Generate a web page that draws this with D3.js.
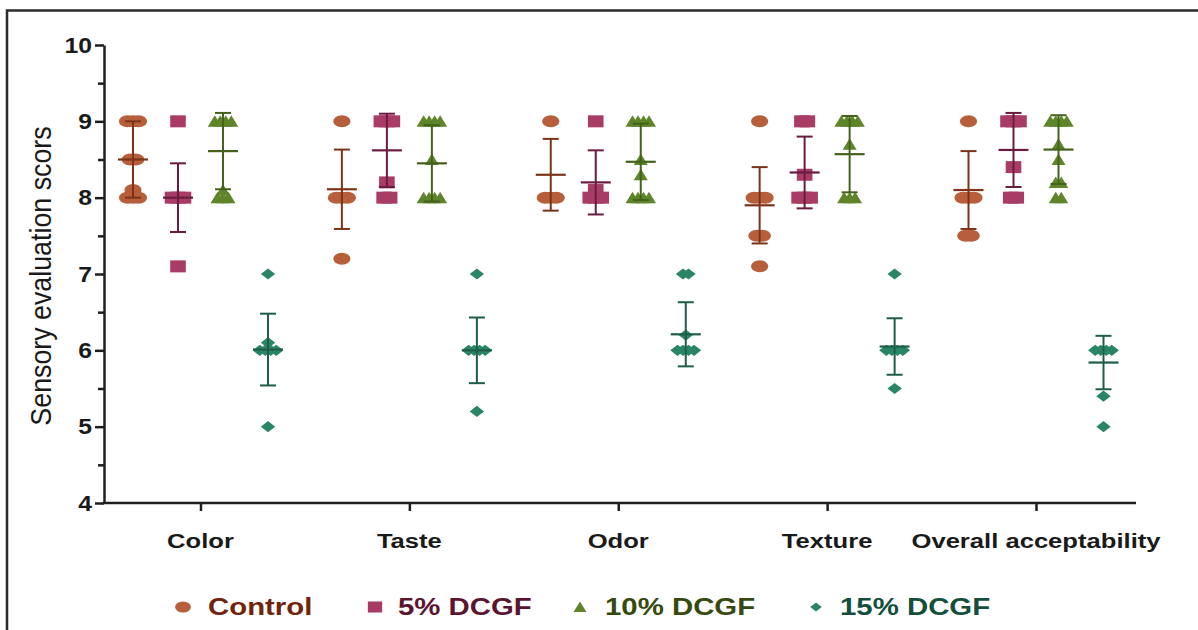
<!DOCTYPE html>
<html>
<head>
<meta charset="utf-8">
<script src="https://cdn.jsdelivr.net/npm/d3@7/dist/d3.min.js"></script>
<style>
  html, body { margin: 0; padding: 0; background: #ffffff; }
  svg { display: block; }
  text { font-family: "Liberation Sans", Arial, sans-serif; }
</style>
</head>
<body>
<svg id="chart" width="1198" height="630"></svg>
<script>
// Sensory attributes on the x axis
const categories = ["Color", "Taste", "Odor", "Texture", "Overall acceptability"];
const seriesNames = ["Control", "5% DCGF", "10% DCGF", "15% DCGF"];

// Individual panel scores, one list per attribute
const controlScores = [
  [9, 9, 9, 8.5, 8.5, 8.1, 8, 8, 8],
  [9, 8, 8, 8, 7.2],
  [9, 8, 8, 8],
  [9, 8, 8, 8, 7.5, 7.5, 7.1],
  [9, 8, 8, 8, 7.5, 7.5]
];
const dcgf5Scores = [
  [9, 8, 8, 8, 7.1],
  [9, 9, 9, 8.2, 8, 8],
  [9, 8.1, 8, 8, 8],
  [9, 9, 8.3, 8, 8, 8],
  [9, 9, 9, 8.4, 8, 8]
];
const dcgf10Scores = [
  [9, 9, 9, 9, 8.1, 8, 8, 8],
  [9, 9, 9, 9, 8.5, 8, 8, 8, 8],
  [9, 9, 9, 9, 8.5, 8.3, 8, 8, 8, 8],
  [9, 9, 9, 9, 8.7, 8, 8, 8],
  [9, 9, 9, 9, 8.7, 8.5, 8.2, 8.2, 8, 8]
];
const dcgf15Scores = [
  [7, 6.1, 6, 6, 6, 6, 5],
  [7, 6, 6, 6, 6, 5.2],
  [7, 7, 6.2, 6, 6, 6, 6],
  [7, 6, 6, 6, 6, 5.5],
  [6, 6, 6, 6, 5.4, 5]
];

// Mean and standard deviation per attribute
const controlMean = [8.50, 8.11, 8.30, 7.90, 8.10];
const controlSD   = [0.50, 0.52, 0.47, 0.50, 0.51];
const dcgf5Mean   = [8.00, 8.62, 8.20, 8.33, 8.625];
const dcgf5SD     = [0.45, 0.48, 0.42, 0.47, 0.485];
const dcgf10Mean  = [8.61, 8.45, 8.47, 8.57, 8.63];
const dcgf10SD    = [0.50, 0.50, 0.50, 0.50, 0.45];
const dcgf15Mean  = [6.01, 6.00, 6.21, 6.05, 5.84];
const dcgf15SD    = [0.47, 0.43, 0.42, 0.37, 0.35];

// Axis ticks
const yTicks = [4, 5, 6, 7, 8, 9, 10];
const yMinorTicks = [4.5, 5.5, 6.5, 7.5, 8.5, 9.5];

const series = [
  { name: seriesNames[0], scores: controlScores, mean: controlMean, sd: controlSD, shape: "circle",   fill: "#b75e3b", bar: "#7c3317", label: "#72230b" },
  { name: seriesNames[1], scores: dcgf5Scores,   mean: dcgf5Mean,   sd: dcgf5SD,   shape: "square",   fill: "#a93c65", bar: "#6a1c40", label: "#5c1431" },
  { name: seriesNames[2], scores: dcgf10Scores,  mean: dcgf10Mean,  sd: dcgf10SD,  shape: "triangle", fill: "#5e8529", bar: "#44621a", label: "#364a0f" },
  { name: seriesNames[3], scores: dcgf15Scores,  mean: dcgf15Mean,  sd: dcgf15SD,  shape: "diamond",  fill: "#2a8566", bar: "#1e5d4a", label: "#134f3c" }
];

const svg = d3.select("#chart");
const axisColor = "#1e1e1e";

// Frame around the figure
svg.append("path")
  .attr("d", "M7,632 V10.5 H1200")
  .attr("fill", "none").attr("stroke", "#2b2b2b").attr("stroke-width", 2.5);

// Scales
const plotLeft = 104, plotRight = 1136, plotTop = 45, plotBottom = 503;
const y = d3.scaleLinear().domain([4, 10]).range([plotBottom, plotTop]);
const x = d3.scalePoint().domain(categories).range([200.5, 1036]);
const xs = d3.scalePoint().domain(seriesNames).range([-67.5, 67.5]);

// Marker drawing (glyphs are slightly wider than tall)
function marker(g, shape, fill, s = 1) {
  if (shape === "circle") {
    g.append("ellipse").attr("rx", 8.6 * s).attr("ry", 6 * s).attr("fill", fill);
  } else if (shape === "square") {
    g.append("rect").attr("x", -7.8 * s).attr("y", -6 * s)
      .attr("width", 15.6 * s).attr("height", 12 * s).attr("fill", fill);
  } else if (shape === "triangle") {
    g.append("path")
      .attr("d", `M0,${-6 * s} L${7 * s},${5.5 * s} L${-7 * s},${5.5 * s} Z`)
      .attr("fill", fill);
  } else {
    g.append("path")
      .attr("d", `M0,${-5.6 * s} L${7.2 * s},0 L0,${5.6 * s} L${-7.2 * s},0 Z`)
      .attr("fill", fill);
  }
}

// Spread tied scores horizontally around the column centre
const step = 5.5;
function spread(values) {
  const counts = d3.rollup(values, v => v.length, v => v);
  const seen = new Map();
  return values.map(v => {
    const k = counts.get(v);
    const j = seen.get(v) || 0;
    seen.set(v, j + 1);
    return { v, dx: (j - (k - 1) / 2) * step };
  });
}

// Points
const pts = svg.append("g");
series.forEach(s => {
  categories.forEach((c, ci) => {
    const cx = x(c) + xs(s.name);
    spread(s.scores[ci]).forEach(p => {
      const g = pts.append("g").attr("transform", `translate(${cx + p.dx},${y(p.v)})`);
      marker(g, s.shape, s.fill);
    });
  });
});

// Mean line and SD whiskers
const bars = svg.append("g").attr("fill", "none").attr("stroke-linecap", "butt");
series.forEach(s => {
  categories.forEach((c, ci) => {
    const cx = x(c) + xs(s.name);
    const m = s.mean[ci], d = s.sd[ci];
    const top = y(m + d), bot = y(m - d), mid = y(m);
    bars.append("line").attr("x1", cx).attr("x2", cx).attr("y1", top).attr("y2", bot)
      .attr("stroke", s.bar).attr("stroke-width", 2);
    bars.append("line").attr("x1", cx - 8).attr("x2", cx + 8).attr("y1", top).attr("y2", top)
      .attr("stroke", s.bar).attr("stroke-width", 2);
    bars.append("line").attr("x1", cx - 8).attr("x2", cx + 8).attr("y1", bot).attr("y2", bot)
      .attr("stroke", s.bar).attr("stroke-width", 2);
    bars.append("line").attr("x1", cx - 15).attr("x2", cx + 15).attr("y1", mid).attr("y2", mid)
      .attr("stroke", s.bar).attr("stroke-width", 2.2);
  });
});

// Y axis with major and minor ticks
svg.append("g").attr("transform", `translate(${plotLeft},0)`)
  .call(d3.axisLeft(y).tickValues(yTicks).tickSize(9).tickSizeOuter(0).tickFormat(""));
svg.append("g").attr("transform", `translate(${plotLeft},0)`)
  .call(d3.axisLeft(y).tickValues(yMinorTicks).tickSize(6).tickSizeOuter(0).tickFormat(""))
  .call(g => g.select(".domain").remove());
svg.selectAll(".tick line, .domain").attr("stroke", axisColor).attr("stroke-width", 2.5);

yTicks.forEach(t => {
  svg.append("text")
    .attr("transform", `translate(92,${y(t) + 7.5}) scale(1.15,1)`)
    .attr("text-anchor", "end")
    .attr("font-size", 21.5).attr("font-weight", "bold").attr("fill", "#1a1a1a")
    .text(t);
});

// X axis: line across the full plot width, ticks at the attributes
svg.append("line")
  .attr("x1", plotLeft - 1.25).attr("x2", plotRight).attr("y1", plotBottom).attr("y2", plotBottom)
  .attr("stroke", axisColor).attr("stroke-width", 2.5);
const xAxisG = svg.append("g").attr("transform", `translate(0,${plotBottom})`)
  .call(d3.axisBottom(x).tickSize(8).tickSizeOuter(0).tickFormat(""))
  .call(g => g.select(".domain").remove());
xAxisG.selectAll(".tick line").attr("stroke", axisColor).attr("stroke-width", 2.5);

categories.forEach(c => {
  svg.append("text")
    .attr("transform", `translate(${x(c)},548) scale(1.22,1)`)
    .attr("text-anchor", "middle")
    .attr("font-size", 21).attr("font-weight", "bold").attr("fill", "#1a1a1a")
    .text(c);
});

// Y axis title
svg.append("text")
  .attr("transform", "translate(51,276) rotate(-90) scale(1,1.12)")
  .attr("text-anchor", "middle")
  .attr("font-size", 26.8).attr("fill", "#1a1a1a")
  .text("Sensory evaluation scors");

// Legend
const legendMarkX = [183, 375, 580, 816];
const legendTextX = [208, 398, 605, 840];
const legendY = 607;
series.forEach((s, i) => {
  const g = svg.append("g").attr("transform", `translate(${legendMarkX[i]},${legendY})`);
  marker(g, s.shape, s.fill, i === 3 ? 0.8 : 0.92);
  svg.append("text")
    .attr("transform", `translate(${legendTextX[i]},${legendY + 8}) scale(1.25,1)`)
    .attr("font-size", 23.5).attr("font-weight", "bold").attr("fill", s.label)
    .text(s.name);
});
</script>
</body>
</html>
